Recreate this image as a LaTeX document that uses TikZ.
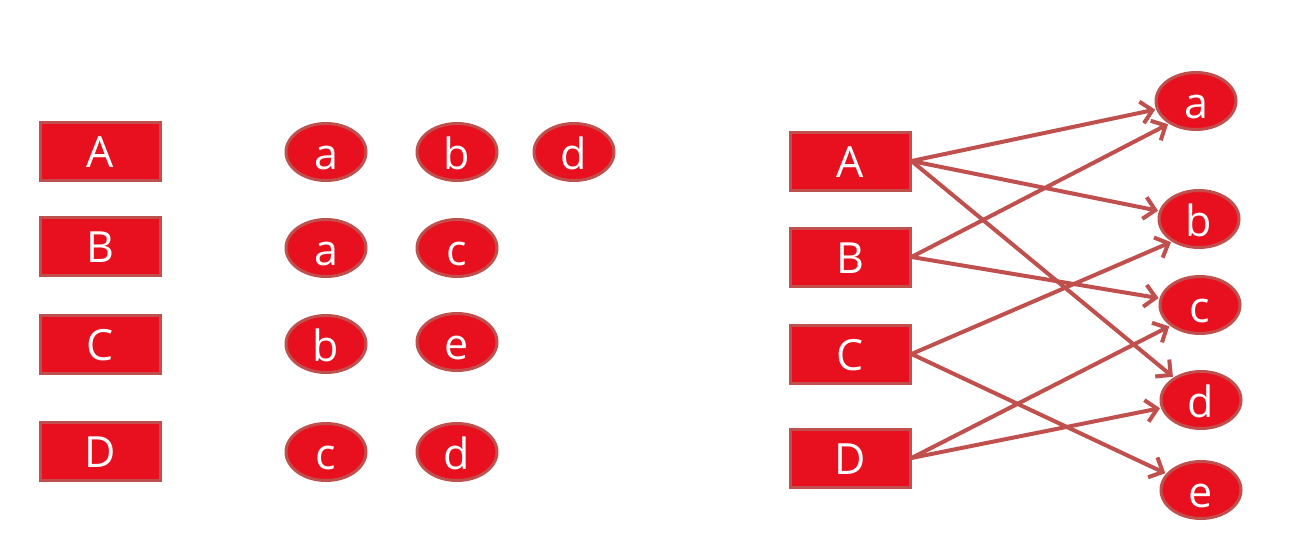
\documentclass[tikz,border=0pt]{standalone}
\usepackage{fontspec}
\setmainfont{Open Sans}
\usetikzlibrary{shapes.geometric,arrows.meta}
\definecolor{boxred}{RGB}{232,16,30}
\definecolor{edgered}{RGB}{192,80,77}
\tikzset{
  keybox/.style={draw=edgered, line width=3pt, fill=boxred, minimum width=120pt, minimum height=58pt, inner sep=0pt, text=white, font=\fontsize{43}{43}\selectfont, text height=33pt, text depth=0pt},
  valell/.style={ellipse, draw=edgered, line width=3pt, fill=boxred, minimum width=80pt, minimum height=57pt, inner sep=0pt, text=white, font=\fontsize{43}{43}\selectfont, text height=35pt, text depth=0pt},
  link/.style={draw=edgered, line width=4pt, -{Straight Barb[length=11pt,width=22pt,line width=4pt]}, shorten >=1pt}
}
\begin{document}
\begin{tikzpicture}[x=1pt,y=-1pt]
\useasboundingbox (0,0) rectangle (1290,536);
% left side
\node[keybox] (LA) at (100,151) {A};
\node[keybox] (LB) at (100,246) {B};
\node[keybox] (LC) at (100,344) {C};
\node[keybox] (LD) at (100,451) {D};
\node[valell] (la1) at (326,152) {a};
\node[valell] (lb1) at (457,152) {b};
\node[valell] (ld1) at (574,152) {d};
\node[valell] (la2) at (326,248) {a};
\node[valell] (lc2) at (457,248) {c};
\node[valell] (lb3) at (326,344) {b};
\node[valell] (le3) at (457,342) {e};
\node[valell] (lc4) at (326,452) {c};
\node[valell] (ld4) at (457,452) {d};
% right side
\node[keybox] (A) at (850,161) {A};
\node[keybox] (B) at (850,257) {B};
\node[keybox] (C) at (850,354) {C};
\node[keybox] (D) at (850,458) {D};
\node[valell] (a) at (1196,101) {a};
\node[valell] (b) at (1199,219) {b};
\node[valell] (c) at (1200,305) {c};
\node[valell] (d) at (1201,400) {d};
\node[valell] (e) at (1201,490) {e};
\draw[link] (A.east) -- (a);
\draw[link] (A.east) -- (b);
\draw[link] (A.east) -- (d);
\draw[link] (B.east) -- (a.220);
\draw[link] (B.east) -- (c);
\draw[link] (C.east) -- (b.220);
\draw[link] (C.east) -- (e);
\draw[link] (D.east) -- (c.215);
\draw[link] (D.east) -- (d);
\end{tikzpicture}
\end{document}
